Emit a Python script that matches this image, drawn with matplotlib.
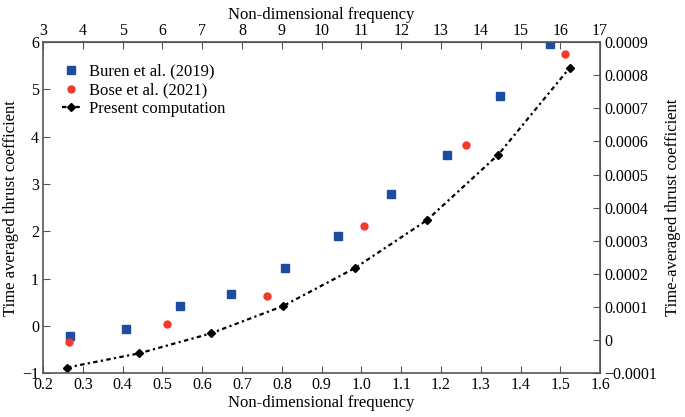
import matplotlib
matplotlib.use('Agg')  # no display here
import matplotlib.pyplot as plt
from matplotlib.ticker import FixedLocator, FuncFormatter
import numpy as np

# data
buren_f = [0.268, 0.408, 0.545, 0.672, 0.807, 0.940, 1.075, 1.215, 1.349, 1.474]
buren_ct = [-0.21, -0.055, 0.415, 0.67, 1.22, 1.91, 2.79, 3.62, 4.87, 5.97]

bose_f = [0.264, 0.511, 0.762, 1.007, 1.264, 1.513]
bose_ct = [-0.35, 0.035, 0.63, 2.12, 3.83, 5.74]

present_f = [0.260, 0.441, 0.621, 0.803, 0.983, 1.164, 1.344, 1.524]
present_ct = [-0.88, -0.58, -0.16, 0.42, 1.22, 2.23, 3.62, 5.46]

bottom_ticks = [0.2, 0.3, 0.4, 0.5, 0.6, 0.7, 0.8, 0.9, 1.0, 1.1, 1.2, 1.3, 1.4, 1.5, 1.6]
bottom_labels = ['0.2', '0.3', '0.4', '0.5', '0.6', '0.7', '0.8', '0.9', '1.0', '1.1', '1.2', '1.3', '1.4', '1.5', '1.6']
top_ticks = list(range(3, 18))
left_ticks = [-1, 0, 1, 2, 3, 4, 5, 6]
right_ticks = [-0.0001, 0, 0.0001, 0.0002, 0.0003, 0.0004, 0.0005, 0.0006, 0.0007, 0.0008, 0.0009]

plt.rcParams['font.family'] = ['Liberation Serif', 'DejaVu Serif']

fig = plt.figure(figsize=(6.85, 4.17), dpi=100)
ax = fig.add_axes([0.063, 0.105, 0.813, 0.794])

blue = '#1c4da0'
red = '#ee3b2b'
spine_col = '#555555'

ax.plot(buren_f, buren_ct, 's', color=blue, ms=6, label='Buren et al. (2019)')
ax.plot(bose_f, bose_ct, 'o', color=red, ms=5, mec=red, label='Bose et al. (2021)')
ax.plot(present_f, present_ct, color='black', lw=1.6, ls=(0, (2, 1.5, 1, 1.5)),
        marker='D', ms=4.5, label='Present computation')

ax.set_xlim(0.2, 1.6)
ax.set_ylim(-1, 6)
ax.set_xticks(bottom_ticks)
ax.set_xticklabels(bottom_labels)
ax.set_yticks(left_ticks)
ax.set_yticklabels(['\u22121' if t == -1 else str(t) for t in left_ticks])
ax.set_xlabel('Non-dimensional frequency', fontsize=12, labelpad=1)
ax.set_ylabel('Time averaged thrust coefficient', fontsize=12, labelpad=2)
ax.tick_params(direction='in', labelsize=11.5, length=5, color=spine_col, pad=3)

for s in ax.spines.values():
    s.set_color(spine_col)
    s.set_linewidth(1.2)

# top axis: frequency in other units
top = ax.secondary_xaxis('top', functions=(lambda x: 10 * x + 1, lambda t: (t - 1) / 10))
top.xaxis.set_major_locator(FixedLocator(top_ticks))
top.set_xlabel('Non-dimensional frequency', fontsize=12, labelpad=3)
top.tick_params(direction='in', labelsize=11.5, length=5, color=spine_col, pad=2)
top.spines['top'].set_color(spine_col)

# right axis: thrust coefficient in other units
def to_right(y):
    return (y + 1) / 7 * 0.001 - 0.0001

def from_right(r):
    return (r + 0.0001) / 0.001 * 7 - 1

def right_fmt(v, pos):
    if abs(v) < 1e-9:
        return '0'
    s = '%.4f' % abs(v)
    return ('\u2212' + s) if v < 0 else s

right = ax.secondary_yaxis('right', functions=(to_right, from_right))
right.yaxis.set_major_locator(FixedLocator(right_ticks))
right.yaxis.set_major_formatter(FuncFormatter(right_fmt))
right.set_ylabel('Time-averaged thrust coefficient', fontsize=12, labelpad=6)
right.tick_params(direction='in', labelsize=11.5, length=5, color=spine_col, pad=3)
right.spines['right'].set_color(spine_col)

ax.legend(loc='upper left', bbox_to_anchor=(0.034, 0.935), frameon=False,
          fontsize=12, handlelength=1.1, handletextpad=0.5, labelspacing=0.17,
          borderaxespad=0, borderpad=0)

fig.savefig('out.png', dpi=100)
